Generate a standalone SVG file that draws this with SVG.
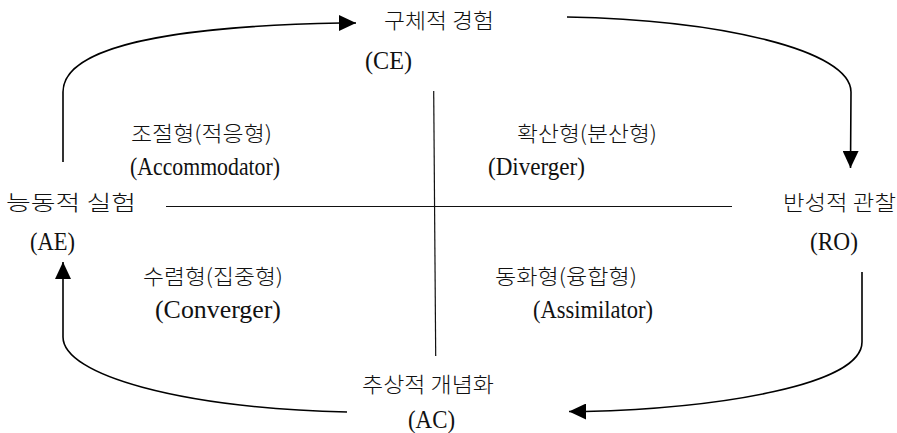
<svg xmlns="http://www.w3.org/2000/svg" width="897" height="433" viewBox="0 0 897 433">
<style>
.ko{font-family:"Noto Sans CJK KR","Noto Sans",sans-serif;font-size:21px;font-weight:300;fill:#111}
.la{font-family:"Liberation Serif","DejaVu Serif",serif;font-size:26px;fill:#111}
.cn{fill:none;stroke:#000;stroke-width:1.6}
.ax{fill:none;stroke:#111;stroke-width:1.2}
</style>
<defs>
<marker id="ah" viewBox="0 0 17 16" refX="17" refY="8" markerWidth="17" markerHeight="16" markerUnits="userSpaceOnUse" orient="auto">
<path d="M0,0 L17,8 L0,16 z" fill="#000"/>
</marker>
</defs>
<rect width="897" height="433" fill="#fff"/>
<g id="axes">
<line class="ax" x1="166" y1="206.5" x2="732" y2="206.5"/>
<line class="ax" x1="433.7" y1="91" x2="435.7" y2="356"/>
</g>
<g id="connectors">
<path class="cn" d="M63,162 L63,92 C63,45 180,26 341,23 L356,23" marker-end="url(#ah)"/>
<path class="cn" d="M567,17 C720,20 851,50 851,92 L850.5,168" marker-end="url(#ah)"/>
<path class="cn" d="M862,272 L862,342 C862,385 720,408 585,411.5 L569,411.5" marker-end="url(#ah)"/>
<path class="cn" d="M347,412 C180,408 63,375 63,337 L63,262" marker-end="url(#ah)"/>
</g>
<g id="node-ce">
<text class="ko" x="384" y="28" textLength="110" lengthAdjust="spacingAndGlyphs">구체적 경험</text>
<text class="la" x="365" y="69" textLength="47" lengthAdjust="spacingAndGlyphs">(CE)</text>
</g>
<g id="node-ae">
<text class="ko" x="6" y="210" textLength="130" lengthAdjust="spacingAndGlyphs">능동적 실험</text>
<text class="la" x="30" y="250" textLength="45" lengthAdjust="spacingAndGlyphs">(AE)</text>
</g>
<g id="node-ro">
<text class="ko" x="783" y="210" textLength="113" lengthAdjust="spacingAndGlyphs">반성적 관찰</text>
<text class="la" x="810" y="250" textLength="48" lengthAdjust="spacingAndGlyphs">(RO)</text>
</g>
<g id="node-ac">
<text class="ko" x="362" y="392" textLength="132" lengthAdjust="spacingAndGlyphs">추상적 개념화</text>
<text class="la" x="408" y="428" textLength="47" lengthAdjust="spacingAndGlyphs">(AC)</text>
</g>
<g id="node-accommodator">
<text class="ko" x="131" y="141" textLength="141" lengthAdjust="spacingAndGlyphs">조절형(적응형)</text>
<text class="la" x="130" y="175" textLength="150" lengthAdjust="spacingAndGlyphs">(Accommodator)</text>
</g>
<g id="node-diverger">
<text class="ko" x="517" y="141" textLength="140" lengthAdjust="spacingAndGlyphs">확산형(분산형)</text>
<text class="la" x="488" y="175" textLength="97" lengthAdjust="spacingAndGlyphs">(Diverger)</text>
</g>
<g id="node-converger">
<text class="ko" x="143" y="284" textLength="140" lengthAdjust="spacingAndGlyphs">수렴형(집중형)</text>
<text class="la" x="155" y="318" textLength="126" lengthAdjust="spacingAndGlyphs">(Converger)</text>
</g>
<g id="node-assimilator">
<text class="ko" x="495" y="284" textLength="142" lengthAdjust="spacingAndGlyphs">동화형(융합형)</text>
<text class="la" x="533" y="318" textLength="120" lengthAdjust="spacingAndGlyphs">(Assimilator)</text>
</g>
</svg>
